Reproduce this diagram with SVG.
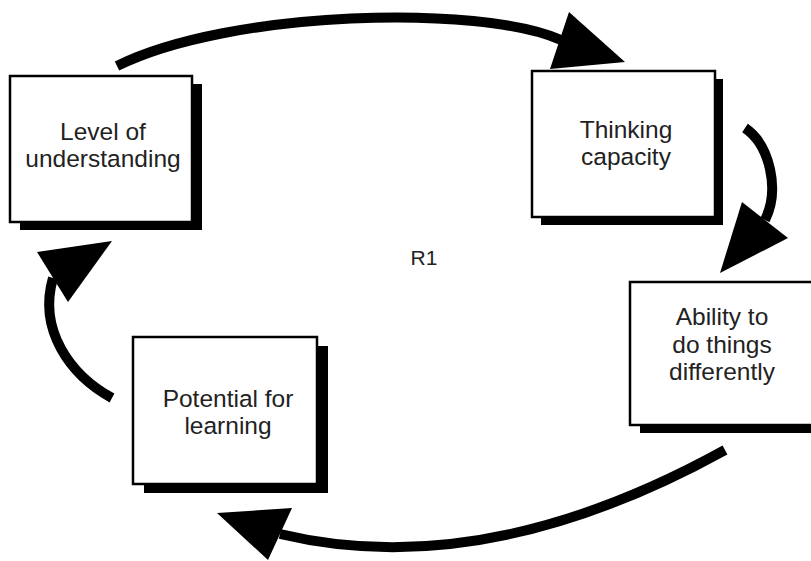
<svg xmlns="http://www.w3.org/2000/svg" width="811" height="561" viewBox="0 0 811 561">
<style>
.shadow{fill:#000}
.box{fill:#fff;stroke:#000;stroke-width:2.5}
.lbl{font-family:"Liberation Sans",Arial,sans-serif;font-size:24.5px;fill:#222;text-anchor:middle}
.conn{fill:none;stroke:#000;stroke-width:10;stroke-linecap:butt}
.head{fill:#000}
</style>
<rect width="811" height="561" fill="#fff"/>
<g id="connectors">
<path class="conn" d="M117,66 C230,10 480,4 561,40"/>
<polygon class="head" points="569,12 625,62 550,69"/>
<path class="conn" d="M745,128 C770,145 780,190 765,220"/>
<polygon class="head" points="742,202 788,238 720,273"/>
<path class="conn" d="M725,450 C580,530 430,570 280,534"/>
<polygon class="head" points="292,508 268,560 217,513"/>
<path class="conn" d="M112,398 C70,375 38,330 53,278"/>
<polygon class="head" points="37,252 112,241 68,302"/>
</g>
<g id="level">
<rect class="shadow" x="20" y="84" width="182" height="146"/>
<rect class="box" x="10" y="76" width="182" height="146"/>
<text class="lbl" x="103" y="140">Level of</text>
<text class="lbl" x="103" y="167">understanding</text>
</g>
<g id="thinking">
<rect class="shadow" x="541" y="79" width="182" height="146"/>
<rect class="box" x="532" y="71" width="183" height="146"/>
<text class="lbl" x="626" y="138">Thinking</text>
<text class="lbl" x="626" y="165">capacity</text>
</g>
<g id="ability">
<rect class="shadow" x="640" y="290" width="182" height="143"/>
<rect class="box" x="630" y="282" width="183" height="143"/>
<text class="lbl" x="722" y="325">Ability to</text>
<text class="lbl" x="722" y="353">do things</text>
<text class="lbl" x="722" y="380">differently</text>
</g>
<g id="potential">
<rect class="shadow" x="144" y="346" width="184" height="147"/>
<rect class="box" x="133" y="337" width="184" height="147"/>
<text class="lbl" x="228" y="407">Potential for</text>
<text class="lbl" x="228" y="434">learning</text>
</g>
<g id="r1">
<text class="lbl" x="424" y="265" style="font-size:21px">R1</text>
</g>
</svg>
